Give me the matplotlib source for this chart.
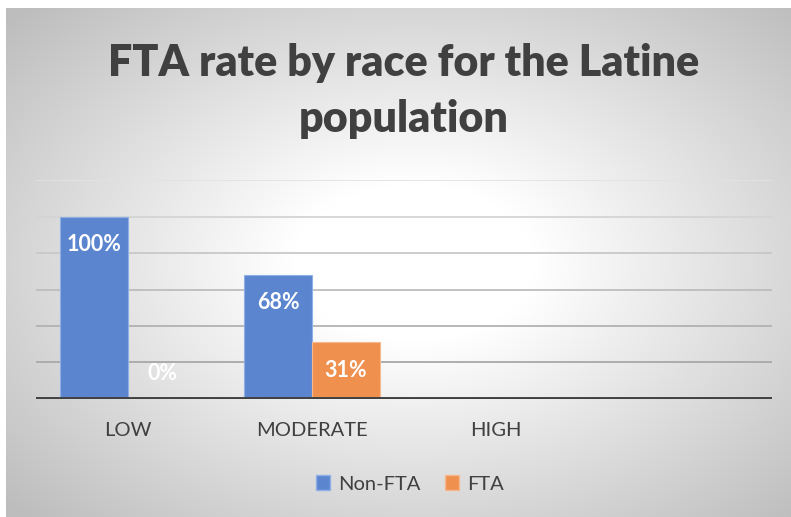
import matplotlib.pyplot as plt
import numpy as np
from matplotlib.patches import Patch

categories = ["LOW", "MODERATE", "HIGH", ""]
non_fta = [1.00, 0.68, np.nan, np.nan]
fta = [0.00, 0.31, np.nan, np.nan]
series_names = ["Non-FTA", "FTA"]
title = "FTA rate by race for the Latine\npopulation"

blue = "#5b86cf"
orange = "#ef904f"
text_col = "#404040"

plt.rcParams['font.family'] = ['Lato', 'DejaVu Sans']

fig = plt.figure(figsize=(7.91, 5.17), dpi=100)
fig.patch.set_facecolor("white")

# radial grey gradient background
bg = fig.add_axes([6 / 791, 0, 1 - 6 / 791, 1 - 8 / 517])
gx, gy = np.meshgrid(np.linspace(0, 1, 400), np.linspace(0, 1, 300))
d = np.sqrt(((gx - 0.52) / 0.5) ** 2 + ((gy - 0.5) / 0.5) ** 2) / np.sqrt(2)
t = np.clip((d - 0.22) / 0.78, 0, 1)
v = (255 - 66 * t) / 255
bg.imshow(np.dstack([v, v, v]), aspect="auto", extent=[0, 1, 0, 1], origin="upper")
bg.axis("off")

ax = fig.add_axes([36 / 791, 118.3 / 517, 736 / 791, 218.4 / 517])
ax.patch.set_alpha(0)
x = np.arange(len(categories))
w = 0.37

ax.bar(x - w / 2, non_fta, w, color=blue, edgecolor="#8fb0e6", linewidth=0.8, zorder=3)
ax.bar(x + w / 2, fta, w, color=orange, edgecolor="#f6b98f", linewidth=0.8, zorder=3)

for xs, vals in ((x - w / 2, non_fta), (x + w / 2, fta)):
    for xi, val in zip(xs, vals):
        if np.isnan(val):
            continue
        off = -20 if val > 0 else 18
        ax.annotate(f"{val:.0%}", (xi, val), xytext=(0, off), textcoords="offset points",
                    ha="center", va="center", color="white", fontsize=15.5, fontweight="bold", zorder=4)

grid_cols = ["#a8a8a8", "#b2b2b2", "#bdbdbd", "#c8c8c8", "#d4d4d4", "#e2e2e2"]
for yv, c in zip([0.2, 0.4, 0.6, 0.8, 1.0, 1.2], grid_cols):
    ax.axhline(yv, color=c, linewidth=1.3, zorder=1)
ax.axhline(0, color="#404040", linewidth=2.8, zorder=5)

ax.set_xlim(-0.5, len(categories) - 0.5)
ax.set_ylim(0, 1.2)
ax.set_yticks([])
ax.set_xticks(x)
ax.set_xticklabels(categories, color=text_col, fontsize=14.5)
ax.tick_params(axis="x", length=0, pad=17)
for s in ax.spines.values():
    s.set_visible(False)

fig.text(404 / 791, 1 - 91 / 517, title, ha="center", va="center", fontsize=31,
         fontweight="heavy", color=text_col, linespacing=1.5)

handles = [Patch(facecolor=blue, edgecolor="#8fb0e6"), Patch(facecolor=orange, edgecolor="#f6b98f")]
fig.legend(handles, series_names, loc="center", bbox_to_anchor=(410 / 791, 1 - 484 / 517),
           ncol=2, frameon=False, fontsize=14.5, handlelength=0.7, handleheight=0.7,
           handletextpad=0.4, columnspacing=1.2, labelcolor=text_col)

fig.savefig("out.png", dpi=100)
